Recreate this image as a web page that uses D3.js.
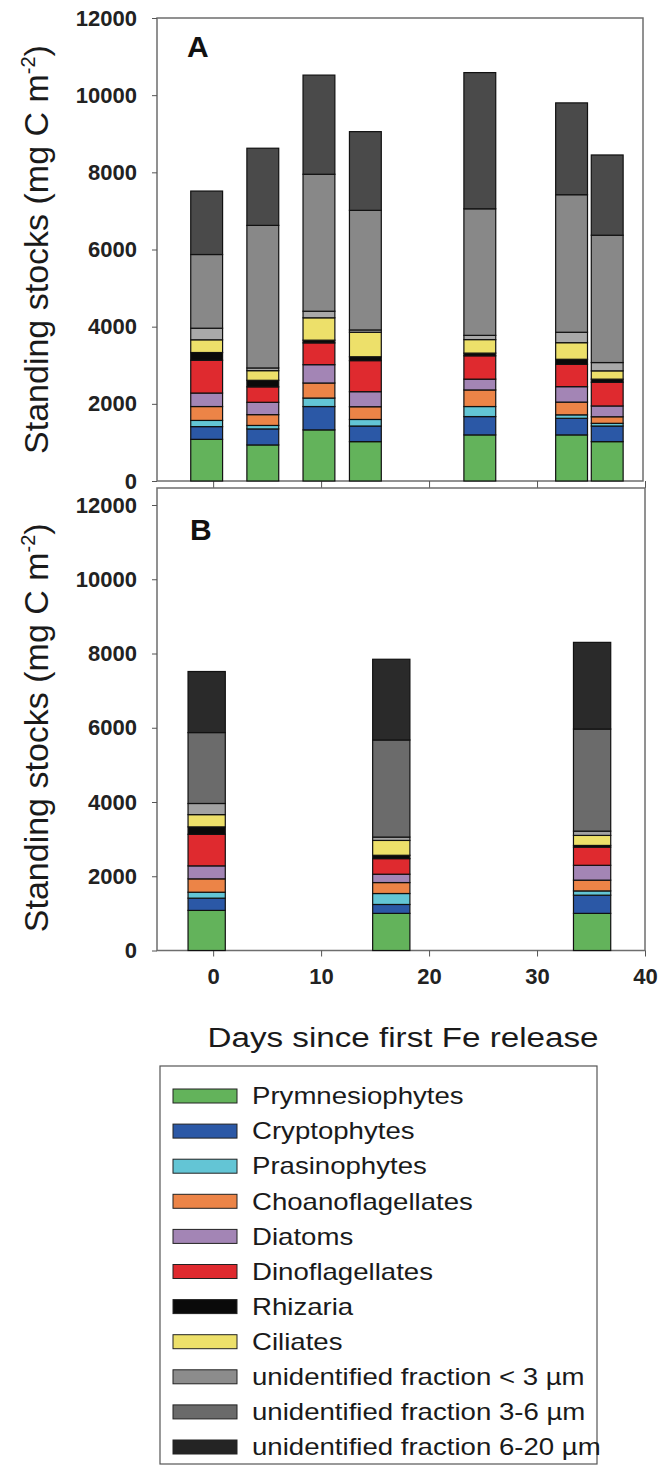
<!DOCTYPE html>
<html>
<head>
<meta charset="utf-8">
<script src="https://cdn.jsdelivr.net/npm/d3@7"></script>
<style>
  body { margin: 0; background: #fff; }
  svg { display: block; font-family: "Liberation Sans", Arial, sans-serif; }
</style>
</head>
<body>
<svg id="chart" width="663" height="1474"></svg>
<script>
// stack order, bottom to top
const groups = ["Prymnesiophytes", "Cryptophytes", "Prasinophytes", "Choanoflagellates",
  "Diatoms", "Dinoflagellates", "Rhizaria", "Ciliates",
  "unidentified fraction < 3 µm", "unidentified fraction 3-6 µm", "unidentified fraction 6-20 µm"];

// Panel A (days since first Fe release)
const daysA = [-0.6, 4.6, 9.8, 14.1, 24.7, 33.2, 36.5];
const prymA    = [1080, 935, 1325, 1020, 1195, 1195, 1020];
const cryptoA  = [330, 415, 605, 405, 475, 430, 405];
const prasA    = [160, 90, 220, 170, 260, 90, 70];
const choanoA  = [360, 280, 390, 330, 430, 330, 170];
const diatomA  = [350, 320, 475, 390, 280, 400, 280];
const dinoA    = [850, 400, 565, 805, 605, 580, 615];
const rhizA    = [200, 170, 70, 100, 70, 130, 80];
const ciliA    = [330, 250, 580, 635, 350, 430, 215];
const unid3A   = [300, 70, 170, 60, 110, 270, 215];
const unid36A  = [1910, 3695, 3550, 3100, 3280, 3565, 3300];
const unid620A = [1645, 2000, 2570, 2040, 3530, 2380, 2080];

// Panel B
const daysB = [-0.6, 16.5, 35.1];
const prymB    = [1080, 1000, 1000];
const cryptoB  = [330, 240, 490];
const prasB    = [160, 295, 115];
const choanoB  = [360, 295, 290];
const diatomB  = [350, 225, 400];
const dinoB    = [850, 420, 490];
const rhizB    = [200, 90, 45];
const ciliB    = [330, 400, 270];
const unid3B   = [300, 90, 115];
const unid36B  = [1910, 2615, 2750];
const unid620B = [1645, 2175, 2335];

const yTicks = [0, 2000, 4000, 6000, 8000, 10000, 12000];
const xTicks = [0, 10, 20, 30, 40];

const colors = ["#63b35b", "#2b58a6", "#63c5d5", "#ec8447", "#a385b5", "#df2a2f",
  "#0a0a0a", "#ede06a", "#8c8c8c", "#6a6a6a", "#242424"];
const graysA = ["#a9a9a9", "#888888", "#4a4a4a"];
const graysB = ["#a2a2a2", "#6b6b6b", "#2a2a2a"];

const svg = d3.select("#chart");
const x = d3.scaleLinear().domain([-5.2, 40]).range([157, 645]);

function rows(days, cols) {
  return days.map((d, i) => {
    const r = { day: d };
    groups.forEach((g, j) => { r[g] = cols[j][i]; });
    return r;
  });
}

function drawPanel(p) {
  const y = d3.scaleLinear().domain([0, 12000]).range([p.bottom, p.top12]);
  const g = svg.append("g");
  const fill = colors.slice(0, 8).concat(p.grays);

  // frame
  g.append("rect")
    .attr("x", x.range()[0]).attr("y", p.frameTop)
    .attr("width", p.right - x.range()[0]).attr("height", p.bottom - p.frameTop)
    .attr("fill", "none").attr("stroke", "#6e6e6e").attr("stroke-width", 1.5);

  // y axis
  const ya = g.append("g")
    .attr("transform", `translate(${x.range()[0]},0)`)
    .call(d3.axisLeft(y).tickValues(yTicks).tickSize(5).tickPadding(15).tickFormat(d3.format("d")));
  ya.select(".domain").remove();
  ya.selectAll(".tick line").attr("stroke", "#555");
  ya.selectAll(".tick text")
    .attr("font-size", 22).attr("font-weight", "bold").attr("fill", "#222")
    .attr("font-family", "'Liberation Sans', Arial, sans-serif");

  // x axis
  const xa = g.append("g")
    .attr("transform", `translate(0,${p.bottom})`)
    .call(d3.axisBottom(x).tickValues(xTicks).tickSize(p.xTickSize).tickPadding(12));
  xa.select(".domain").remove();
  xa.selectAll(".tick line").attr("stroke", "#555");
  xa.selectAll(".tick text")
    .attr("font-size", 22).attr("font-weight", "bold").attr("fill", "#222")
    .attr("font-family", "'Liberation Sans', Arial, sans-serif")
    .style("display", p.showXLabels ? null : "none");

  // stacked bars
  const stacked = d3.stack().keys(groups)(p.data);
  const half = p.barWidth / 2;
  g.selectAll(".layer")
    .data(stacked)
    .join("g")
    .attr("fill", (d, i) => fill[i])
    .selectAll("rect")
    .data(d => d)
    .join("rect")
    .attr("x", d => x(d.data.day - half))
    .attr("width", d => x(d.data.day + half) - x(d.data.day - half))
    .attr("y", d => y(d[1]))
    .attr("height", d => y(d[0]) - y(d[1]))
    .attr("stroke", "#111")
    .attr("stroke-width", 1.2);

  // panel letter
  g.append("text")
    .attr("x", p.letterX).attr("y", p.letterY)
    .attr("font-size", 30).attr("font-weight", "bold").attr("fill", "#111")
    .text(p.letter);

  // y title
  const t = g.append("text")
    .attr("transform", `translate(48,${(p.bottom + p.top12) / 2}) rotate(-90)`)
    .attr("text-anchor", "middle")
    .attr("font-size", 34).attr("fill", "#1a1a1a");
  t.append("tspan").text("Standing stocks (mg C m");
  t.append("tspan").attr("font-size", 20).attr("dy", -13).text("-2");
  t.append("tspan").attr("dy", 13).text(")");
}

drawPanel({
  data: rows(daysA, [prymA, cryptoA, prasA, choanoA, diatomA, dinoA, rhizA, ciliA, unid3A, unid36A, unid620A]),
  top12: 18, bottom: 481, frameTop: 18, right: 643,
  grays: graysA, barWidth: 2.95, letter: "A", letterX: 187, letterY: 57,
  xTickSize: 7, showXLabels: false
});

drawPanel({
  data: rows(daysB, [prymB, cryptoB, prasB, choanoB, diatomB, dinoB, rhizB, ciliB, unid3B, unid36B, unid620B]),
  top12: 505, bottom: 950.5, frameTop: 488, right: 645,
  grays: graysB, barWidth: 3.45, letter: "B", letterX: 190, letterY: 540,
  xTickSize: 6, showXLabels: true
});

// x title (the source figure is stretched horizontally)
svg.append("text")
  .attr("transform", "translate(403,1047) scale(1.23,1)")
  .attr("text-anchor", "middle")
  .attr("font-size", 27).attr("fill", "#1a1a1a")
  .text("Days since first Fe release");

// legend
const lg = svg.append("g");
lg.append("rect")
  .attr("x", 160).attr("y", 1066).attr("width", 437).attr("height", 398)
  .attr("fill", "#fff").attr("stroke", "#555").attr("stroke-width", 1.2);

const item = lg.selectAll(".item")
  .data(groups)
  .join("g")
  .attr("transform", (d, i) => `translate(173,${1096 + i * 35.1})`);

item.append("rect")
  .attr("x", 0).attr("y", -7).attr("width", 64).attr("height", 14)
  .attr("fill", (d, i) => colors[i])
  .attr("stroke", "#222").attr("stroke-width", 1);

item.append("text")
  .attr("transform", "translate(79,0) scale(1.2,1)")
  .attr("dy", "0.36em")
  .attr("font-size", 23).attr("fill", "#1a1a1a")
  .text(d => d);
</script>
</body>
</html>
